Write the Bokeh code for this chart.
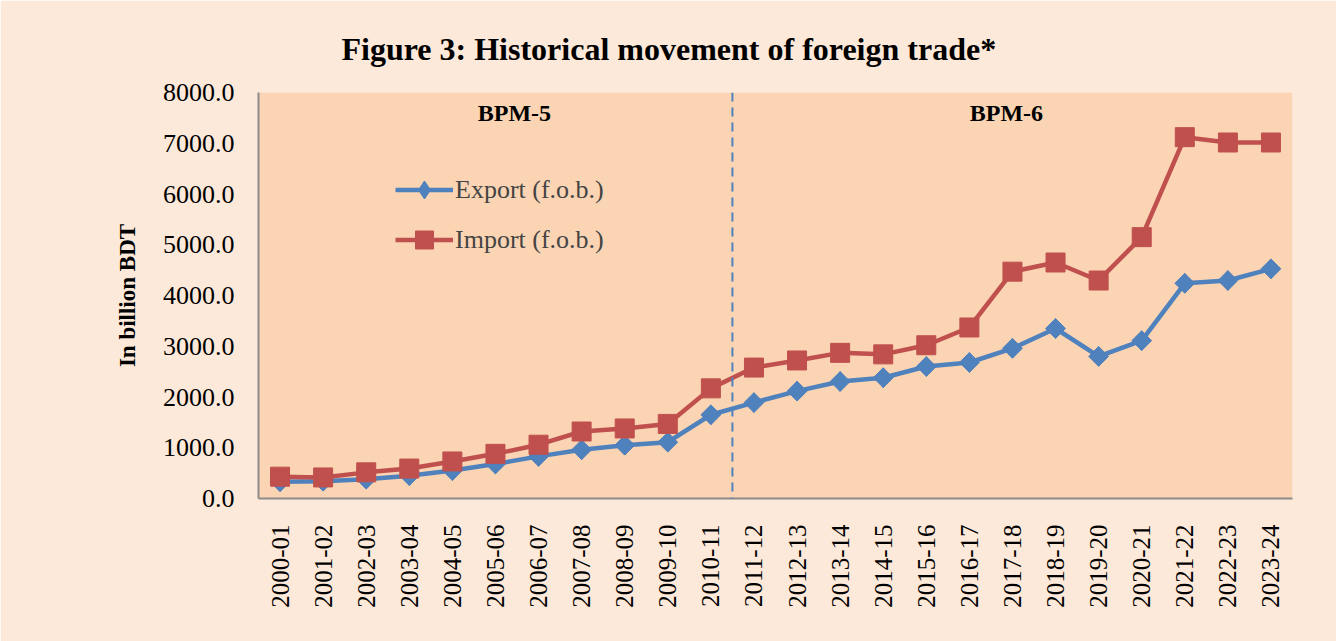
import numpy as np
from bokeh.plotting import figure
from bokeh.models import (FactorRange, Range1d, Span, Label, Legend, LegendItem,
                          NumeralTickFormatter, SingleIntervalTicker, ColumnDataSource)
from bokeh.embed import file_html
from bokeh.resources import INLINE

years = ["2000-01", "2001-02", "2002-03", "2003-04", "2004-05", "2005-06",
         "2006-07", "2007-08", "2008-09", "2009-10", "2010-11", "2011-12",
         "2012-13", "2013-14", "2014-15", "2015-16", "2016-17", "2017-18",
         "2018-19", "2019-20", "2020-21", "2021-22", "2022-23", "2023-24"]
export_fob = [330, 340, 380, 450, 550, 680, 830, 960, 1050, 1110, 1650, 1890,
              2115, 2305, 2380, 2600, 2680, 2960, 3350, 2800, 3110, 4240, 4295, 4526]
import_fob = [430, 415, 515, 590, 730, 880, 1060, 1320, 1380, 1470, 2170, 2580,
              2720, 2870, 2840, 3020, 3370, 4470, 4650, 4295, 5150, 7120, 7015, 7015]

FONT = "Liberation Serif"
BLUE = "#4F81BD"
RED = "#C0504D"

p = figure(width=1336, height=641, x_range=FactorRange(*years), y_range=Range1d(0, 8000),
           output_backend="svg", toolbar_location=None,
           title="Figure 3: Historical movement of foreign trade*",
           min_border_left=258, min_border_right=44, min_border_top=92, min_border_bottom=143)
p.border_fill_color = "#FDE9D9"
p.background_fill_color = "#FBD4B4"
p.outline_line_color = None
p.xgrid.grid_line_color = None
p.ygrid.grid_line_color = None

p.title.text_font = FONT
p.title.text_font_size = "32px"
p.title.text_font_style = "bold"
p.title.text_color = "black"
p.title.text_line_height = 0.9
p.title.align = "left"
p.title.offset = 83
p.title.standoff = 52

# axes
p.yaxis.ticker = SingleIntervalTicker(interval=1000)
p.yaxis.formatter = NumeralTickFormatter(format="0.0")
for ax in (p.xaxis[0], p.yaxis[0]):
    ax.axis_line_color = "#8C8C8C"
    ax.axis_line_width = 2
    ax.major_tick_line_color = None
    ax.minor_tick_line_color = None
    ax.major_tick_out = 0
    ax.major_tick_in = 0
    ax.minor_tick_out = 0
    ax.major_label_text_font = FONT
    ax.major_label_text_color = "black"
p.yaxis.major_label_text_font_size = "26px"
p.yaxis.major_label_standoff = 24
p.yaxis.axis_label = "In billion BDT"
p.yaxis.axis_label_text_font = FONT
p.yaxis.axis_label_text_font_size = "23px"
p.yaxis.axis_label_text_font_style = "bold"
p.yaxis.axis_label_text_color = "black"
p.yaxis.axis_label_standoff = 20
p.xaxis.major_label_text_font_size = "25px"
p.xaxis.major_label_orientation = np.pi / 2
p.xaxis.major_label_standoff = 26

# BPM divider
p.add_layout(Span(location=11, dimension="height", line_color=BLUE, line_width=2,
                  line_dash="9 6"))

src = ColumnDataSource(dict(x=years, exp=export_fob, imp=import_fob))
l1 = p.line("x", "exp", source=src, line_color=BLUE, line_width=4.5)
# diamond marker (used for the legend glyph), covered by the rotated squares
m1_leg = p.scatter("x", "exp", source=src, marker="diamond", size=19.5,
                   fill_color=BLUE, line_color=BLUE)
m1 = p.scatter("x", "exp", source=src, marker="square", size=14, angle=np.pi / 4,
               fill_color=BLUE, line_color=BLUE)
l2 = p.line("x", "imp", source=src, line_color=RED, line_width=4.5)
m2 = p.scatter("x", "imp", source=src, marker="square", size=19,
               fill_color=RED, line_color=RED)

legend = Legend(items=[LegendItem(label="Export (f.o.b.)", renderers=[l1, m1_leg]),
                       LegendItem(label="Import (f.o.b.)", renderers=[l2, m2])],
                location=(137, 236), orientation="vertical",
                background_fill_alpha=0, border_line_color=None,
                label_text_font=FONT, label_text_font_size="26px",
                glyph_width=58, glyph_height=45, label_height=45,
                spacing=5, padding=0, margin=0, label_standoff=2)
p.add_layout(legend, "center")

for txt, xpos in (("BPM-5", 5.94), ("BPM-6", 17.36)):
    p.add_layout(Label(x=xpos, y=7590, text=txt, text_font=FONT, text_font_size="24px",
                       text_font_style="bold", text_align="center", text_baseline="middle",
                       text_color="black"))

open("out.html", "w").write(file_html(p, INLINE))
